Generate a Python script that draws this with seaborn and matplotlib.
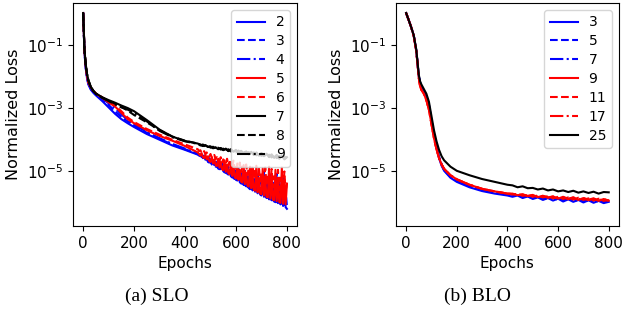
import matplotlib
matplotlib.use("Agg")
import matplotlib.pyplot as plt
from matplotlib.ticker import FixedLocator, NullLocator
import numpy as np
import pandas as pd
import seaborn as sns

# ---- (a) SLO : log10 of normalized loss ----
slo_head = [0, 5, 10, 15, 20, 30, 40, 50, 75, 100, 125, 150, 175, 200, 250, 300, 350, 400, 450]
slo_epochs_fine = slo_head + list(range(455, 805, 5))     # blue / red runs
slo_epochs_coarse = slo_head + list(range(460, 810, 10))  # black runs

slo_2 = [0, -1.25, -1.75, -2.05, -2.25, -2.42, -2.52, -2.60, -2.78, -2.98, -3.18, -3.35, -3.48, -3.60, -3.82, -4.00, -4.18, -4.32, -4.47,
         -4.50, -4.46, -4.54, -4.55, -4.50, -4.63, -4.60, -4.68, -4.58, -4.72, -4.76, -4.66, -4.80, -4.74, -4.86, -4.89, -4.78, -4.93,
         -4.85, -4.99, -5.03, -4.88, -5.07, -5.10, -4.95, -5.16, -5.05, -5.21, -5.24, -5.00, -5.29, -5.15, -5.34, -5.38, -5.10, -5.43,
         -5.28, -5.47, -5.05, -5.52, -5.56, -5.30, -5.60, -5.45, -5.64, -5.15, -5.69, -5.40, -5.73, -5.76, -5.25, -5.80, -5.55, -5.84,
         -5.20, -5.88, -5.60, -5.91, -5.35, -5.95, -5.97, -5.50, -6.00, -5.20, -6.04, -5.70, -6.09, -5.45, -6.13, -6.18]
slo_3 = [0, -1.20, -1.70, -2.00, -2.20, -2.38, -2.48, -2.56, -2.72, -2.90, -3.10, -3.28, -3.42, -3.55, -3.78, -3.97, -4.15, -4.30, -4.44,
         -4.46, -4.50, -4.44, -4.55, -4.58, -4.52, -4.62, -4.55, -4.68, -4.70, -4.60, -4.75, -4.78, -4.65, -4.83, -4.70, -4.88, -4.90,
         -4.72, -4.95, -4.98, -4.80, -5.03, -4.85, -5.08, -5.10, -4.88, -5.16, -4.95, -5.21, -5.24, -4.92, -5.29, -5.05, -5.33, -5.36,
         -4.98, -5.41, -5.15, -5.45, -5.48, -5.00, -5.53, -5.20, -5.57, -5.60, -5.05, -5.64, -5.30, -5.68, -5.71, -5.02, -5.75, -5.35,
         -5.79, -5.82, -5.10, -5.86, -5.45, -5.89, -5.92, -5.08, -5.95, -5.50, -5.99, -6.02, -5.15, -6.06, -5.60, -6.10]
slo_4 = [0, -1.22, -1.72, -2.02, -2.22, -2.40, -2.50, -2.57, -2.70, -2.85, -3.00, -3.20, -3.38, -3.52, -3.76, -3.95, -4.13, -4.28, -4.45,
         -4.48, -4.52, -4.50, -4.58, -4.56, -4.64, -4.55, -4.70, -4.72, -4.62, -4.78, -4.80, -4.70, -4.85, -4.76, -4.91, -4.93, -4.80,
         -4.98, -5.00, -4.85, -5.05, -4.95, -5.11, -5.13, -4.98, -5.19, -5.05, -5.24, -5.27, -5.08, -5.32, -5.20, -5.36, -5.39, -5.18,
         -5.44, -5.30, -5.48, -5.51, -5.22, -5.56, -5.38, -5.60, -5.62, -5.28, -5.67, -5.48, -5.71, -5.73, -5.32, -5.78, -5.50, -5.82,
         -5.84, -5.30, -5.88, -5.60, -5.91, -5.93, -5.38, -5.97, -5.65, -6.00, -6.02, -5.42, -6.06, -5.70, -6.10, -6.12]
slo_5 = [0, -1.18, -1.68, -1.98, -2.18, -2.35, -2.46, -2.54, -2.68, -2.82, -2.95, -3.15, -3.35, -3.48, -3.70, -3.88, -4.03, -4.20, -4.40,
         -4.45, -4.50, -4.42, -4.55, -4.58, -4.48, -4.62, -4.52, -4.67, -4.70, -4.55, -4.75, -4.62, -4.80, -4.83, -4.60, -4.88, -4.70,
         -4.93, -4.96, -4.65, -5.01, -4.78, -5.06, -5.09, -4.70, -5.14, -4.85, -5.19, -5.22, -4.75, -5.27, -4.95, -5.32, -5.35, -4.80,
         -5.40, -5.05, -5.45, -5.48, -4.85, -5.53, -5.10, -5.58, -5.61, -4.82, -5.66, -5.20, -5.70, -5.72, -4.90, -5.76, -5.25, -5.80,
         -5.82, -4.85, -5.86, -5.15, -5.89, -5.91, -4.95, -5.94, -5.30, -5.97, -5.99, -4.88, -6.02, -5.25, -6.04, -5.40]
slo_6 = [0, -1.18, -1.68, -1.98, -2.18, -2.35, -2.46, -2.54, -2.66, -2.80, -2.92, -3.10, -3.30, -3.44, -3.66, -3.84, -4.00, -4.15, -4.30,
         -4.36, -4.33, -4.40, -4.42, -4.36, -4.46, -4.40, -4.50, -4.52, -4.45, -4.56, -4.58, -4.48, -4.62, -4.55, -4.66, -4.68, -4.55,
         -4.72, -4.62, -4.76, -4.78, -4.60, -4.82, -4.70, -4.86, -4.88, -4.66, -4.92, -4.78, -4.96, -4.98, -4.72, -5.02, -4.85, -5.06,
         -5.08, -4.78, -5.12, -4.90, -5.16, -5.18, -4.82, -5.22, -4.98, -5.26, -5.28, -4.85, -5.32, -5.05, -5.36, -5.38, -4.88, -5.42,
         -5.10, -5.45, -5.47, -4.92, -5.51, -5.15, -5.54, -5.56, -4.95, -5.60, -5.20, -5.63, -5.65, -5.00, -5.68, -5.35]
slo_7 = [0, -1.15, -1.62, -1.92, -2.10, -2.33, -2.45, -2.54, -2.66, -2.75, -2.83, -2.92, -3.00, -3.10, -3.38, -3.68, -3.90, -4.04, -4.12,
         -4.16, -4.20, -4.17, -4.23, -4.22, -4.27, -4.24, -4.30, -4.26, -4.33, -4.28, -4.36, -4.30, -4.38, -4.32, -4.42, -4.35,
         -4.43, -4.37, -4.46, -4.38, -4.48, -4.40, -4.50, -4.42, -4.52, -4.44, -4.55, -4.46, -4.57, -4.48, -4.60, -4.50, -4.62, -4.55]
slo_8 = [0, -1.15, -1.62, -1.92, -2.12, -2.35, -2.47, -2.55, -2.67, -2.77, -2.86, -2.96, -3.08, -3.22, -3.45, -3.70, -3.90, -4.03, -4.12,
         -4.18, -4.15, -4.21, -4.19, -4.25, -4.22, -4.29, -4.25, -4.31, -4.28, -4.35, -4.30, -4.37, -4.33, -4.40, -4.34, -4.43,
         -4.36, -4.45, -4.39, -4.47, -4.40, -4.49, -4.43, -4.51, -4.45, -4.54, -4.47, -4.56, -4.49, -4.58, -4.51, -4.60, -4.53, -4.58]
slo_9 = [0, -1.15, -1.63, -1.93, -2.12, -2.34, -2.46, -2.55, -2.68, -2.78, -2.88, -2.98, -3.05, -3.15, -3.42, -3.72, -3.92, -4.05, -4.13,
         -4.15, -4.19, -4.18, -4.22, -4.21, -4.26, -4.25, -4.29, -4.27, -4.32, -4.30, -4.35, -4.31, -4.37, -4.34, -4.40, -4.36,
         -4.42, -4.38, -4.45, -4.40, -4.47, -4.41, -4.49, -4.43, -4.51, -4.45, -4.53, -4.47, -4.56, -4.49, -4.58, -4.51, -4.60, -4.56]

# ---- (b) BLO : log10 of normalized loss ----
blo_epochs = [0, 10, 20, 30, 40, 45, 50, 55, 60, 70, 80, 90, 100, 110, 120, 130, 140, 150, 175, 200, 250, 300, 350, 400,
              420, 440, 460, 480, 500, 520, 540, 560, 580, 600, 620, 640, 660, 680, 700, 720, 740, 760, 780, 800]

blo_3 = [0, -0.22, -0.45, -0.71, -1.18, -1.58, -2.00, -2.20, -2.32, -2.47, -2.62, -2.90, -3.38, -3.85, -4.24, -4.58, -4.82, -4.98, -5.20, -5.33, -5.50, -5.62, -5.70, -5.76,
         -5.80, -5.76, -5.84, -5.79, -5.87, -5.82, -5.90, -5.84, -5.92, -5.86, -5.95, -5.88, -5.96, -5.90, -5.98, -5.91, -5.99, -5.93, -6.00, -5.96]
blo_5 = [0, -0.22, -0.45, -0.71, -1.18, -1.58, -2.00, -2.20, -2.32, -2.47, -2.62, -2.90, -3.38, -3.85, -4.22, -4.55, -4.78, -4.95, -5.17, -5.30, -5.46, -5.58, -5.66, -5.72,
         -5.74, -5.78, -5.76, -5.82, -5.79, -5.85, -5.81, -5.88, -5.83, -5.90, -5.85, -5.92, -5.86, -5.94, -5.88, -5.95, -5.89, -5.96, -5.90, -5.94]
blo_7 = [0, -0.22, -0.45, -0.71, -1.18, -1.58, -2.00, -2.20, -2.32, -2.47, -2.62, -2.90, -3.38, -3.85, -4.22, -4.55, -4.78, -4.95, -5.17, -5.30, -5.46, -5.58, -5.66, -5.72,
         -5.76, -5.74, -5.80, -5.78, -5.84, -5.80, -5.86, -5.83, -5.89, -5.85, -5.91, -5.86, -5.93, -5.88, -5.95, -5.89, -5.96, -5.91, -5.97, -5.93]
blo_9 = [0, -0.22, -0.45, -0.72, -1.20, -1.60, -2.05, -2.30, -2.42, -2.55, -2.75, -3.05, -3.50, -3.95, -4.30, -4.58, -4.78, -4.92, -5.12, -5.25, -5.42, -5.55, -5.63, -5.70,
         -5.70, -5.75, -5.72, -5.78, -5.74, -5.81, -5.77, -5.83, -5.79, -5.86, -5.80, -5.88, -5.82, -5.90, -5.84, -5.91, -5.86, -5.93, -5.87, -5.92]
blo_11 = [0, -0.22, -0.45, -0.72, -1.20, -1.60, -2.05, -2.30, -2.42, -2.55, -2.75, -3.05, -3.50, -3.95, -4.30, -4.58, -4.78, -4.92, -5.12, -5.25, -5.42, -5.55, -5.63, -5.70,
          -5.73, -5.71, -5.77, -5.74, -5.80, -5.76, -5.82, -5.78, -5.85, -5.80, -5.87, -5.82, -5.89, -5.83, -5.90, -5.85, -5.92, -5.86, -5.93, -5.90]
blo_17 = [0, -0.22, -0.45, -0.72, -1.20, -1.60, -2.05, -2.30, -2.42, -2.55, -2.75, -3.05, -3.50, -3.95, -4.30, -4.58, -4.78, -4.92, -5.12, -5.25, -5.42, -5.55, -5.63, -5.70,
          -5.71, -5.74, -5.73, -5.77, -5.75, -5.80, -5.77, -5.82, -5.79, -5.84, -5.81, -5.86, -5.82, -5.88, -5.84, -5.89, -5.85, -5.91, -5.87, -5.93]
blo_25 = [0, -0.22, -0.45, -0.70, -1.15, -1.55, -1.95, -2.15, -2.25, -2.40, -2.55, -2.80, -3.25, -3.70, -4.05, -4.32, -4.52, -4.65, -4.85, -4.98, -5.12, -5.24, -5.33, -5.42,
          -5.44, -5.50, -5.47, -5.53, -5.52, -5.57, -5.54, -5.60, -5.57, -5.63, -5.60, -5.65, -5.61, -5.67, -5.63, -5.68, -5.64, -5.70, -5.65, -5.66]

F, C = slo_epochs_fine, slo_epochs_coarse
slo_series = [("2", F, slo_2, "blue", "-"), ("3", F, slo_3, "blue", "--"), ("4", F, slo_4, "blue", "-."),
              ("5", F, slo_5, "red", "-"), ("6", F, slo_6, "red", "--"),
              ("7", C, slo_7, "black", "-"), ("8", C, slo_8, "black", "--"), ("9", C, slo_9, "black", "-.")]
B = blo_epochs
blo_series = [("3", B, blo_3, "blue", "-"), ("5", B, blo_5, "blue", "--"), ("7", B, blo_7, "blue", "-."),
              ("9", B, blo_9, "red", "-"), ("11", B, blo_11, "red", "--"), ("17", B, blo_17, "red", "-."),
              ("25", B, blo_25, "black", "-")]


def draw(ax, series):
	for name, epochs, vals, color, ls in series:
		df = pd.DataFrame({"Epochs": epochs, "Normalized Loss": np.power(10.0, vals)})
		sns.lineplot(data=df, x="Epochs", y="Normalized Loss", ax=ax, color=color,
					 linestyle=ls, linewidth=1.5, label=name)
	ax.set_yscale("log")
	ax.set_xlim(-40, 840)
	ax.set_ylim(10 ** -6.72, 10 ** 0.32)
	ax.set_xticks([0, 200, 400, 600, 800])
	ax.yaxis.set_major_locator(FixedLocator([1e-5, 1e-3, 1e-1]))
	ax.yaxis.set_minor_locator(NullLocator())
	ax.set_xlabel("Epochs", fontsize=11)
	ax.set_ylabel("Normalized Loss", fontsize=11.5)
	ax.tick_params(labelsize=11)
	ax.legend(loc="upper right", fontsize=10, handlelength=2.0, labelspacing=0.35)


def main():
	plt.rcParams['font.family'] = ['DejaVu Sans']
	fig = plt.figure(figsize=(6.26, 3.2), dpi=100)
	ax1 = fig.add_axes([0.1166, 0.294, 0.358, 0.697])
	ax2 = fig.add_axes([0.6326, 0.294, 0.356, 0.697])
	draw(ax1, slo_series)
	draw(ax2, blo_series)
	fig.text(0.25, 0.075, "(a) SLO", ha="center", va="center", fontsize=14, family="Liberation Serif")
	fig.text(0.762, 0.075, "(b) BLO", ha="center", va="center", fontsize=14, family="Liberation Serif")
	fig.savefig("out.png", dpi=100)


if __name__ == "__main__":
	main()
